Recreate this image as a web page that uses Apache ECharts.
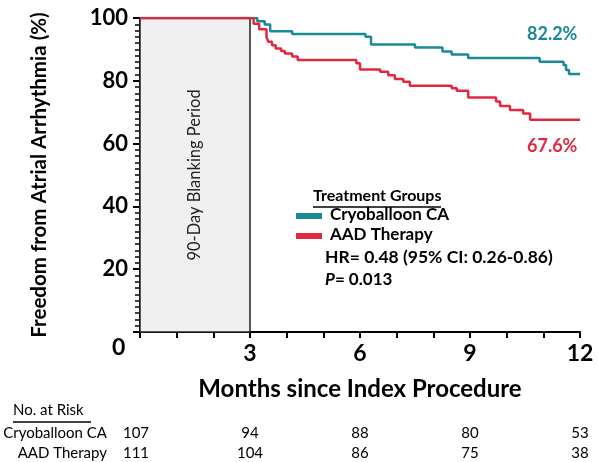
<!DOCTYPE html>
<html>
<head>
<meta charset="utf-8">
<script src="https://cdn.jsdelivr.net/npm/echarts@6/dist/echarts.min.js"></script>
<style>
html,body{margin:0;padding:0;background:#fff;}
#chart{width:597px;height:462px;}
</style>
</head>
<body>
<div id="chart"></div>
<script>
// ---- data ----
var cryoTime = [0, 3.2, 3.4, 3.55, 4.15, 6.15, 6.3, 7.5, 8.25, 8.5, 8.95, 10.9, 11.55, 11.62, 11.7, 12];
var cryoSurv = [100, 99.0, 97.9, 95.8, 94.9, 94.0, 91.6, 90.6, 89.3, 88.4, 87.3, 86.1, 85.0, 83.4, 82.2, 82.2];
var aadTime = [0, 3.1, 3.25, 3.45, 3.5, 3.6, 3.7, 3.85, 3.95, 4.15, 4.3, 5.9, 6.0, 6.55, 6.77, 6.95, 7.18, 7.36, 8.5, 8.64, 8.95, 9.71, 9.82, 10.09, 10.45, 10.64, 12];
var aadSurv = [100, 98.2, 96.4, 93.9, 92.4, 91.3, 90.3, 89.5, 88.7, 87.7, 86.6, 85.6, 83.6, 82.9, 81.8, 80.6, 79.7, 78.4, 77.6, 76.8, 74.7, 73.4, 72.0, 70.7, 69.6, 67.6, 67.6];
var seriesNames = ['Cryoballoon CA', 'AAD Therapy'];
var finalLabels = ['82.2%', '67.6%'];
var riskMonths = [0, 3, 6, 9, 12];
var cryoRisk = [107, 94, 88, 80, 53];
var aadRisk = [111, 104, 86, 75, 38];
var blanking = [0, 3];

var TEAL = '#1a8a96';
var RED = '#e2283f';
var FONT = 'Lato';

function pairs(t, s) { return t.map(function (v, i) { return [v, s[i]]; }); }

var chart = echarts.init(document.getElementById('chart'));
var option = {
  animation: false,
  backgroundColor: '#fff',
  grid: { left: 140, right: 17, top: 18, bottom: 130 },
  xAxis: {
    type: 'value', min: 0, max: 12, interval: 3,
    axisLine: { lineStyle: { color: '#000', width: 2 } },
    axisTick: { show: true, length: 6, lineStyle: { color: '#000', width: 2 } },
    minorTick: { show: true, splitNumber: 3, length: 6, lineStyle: { color: '#000', width: 2 } },
    splitLine: { show: false },
    axisLabel: {
      margin: 10, color: '#000', fontFamily: FONT, fontWeight: 'bold', fontSize: 23,
      formatter: function (v) { return v === 0 ? '' : String(v); }
    },
    name: 'Months since Index Procedure', nameLocation: 'middle', nameGap: 45,
    nameTextStyle: { color: '#000', fontFamily: FONT, fontWeight: 'bold', fontSize: 24 }
  },
  yAxis: {
    type: 'value', min: 0, max: 100, interval: 20,
    axisLine: { show: true, lineStyle: { color: '#000', width: 2 } },
    axisTick: { show: true, length: 7, lineStyle: { color: '#000', width: 2 } },
    minorTick: { show: true, splitNumber: 10, length: 5, lineStyle: { color: '#000', width: 1.5 } },
    splitLine: { show: false },
    axisLabel: {
      margin: 12, color: '#000', fontFamily: FONT, fontWeight: 'bold', fontSize: 22,
      formatter: function (v) { return v === 0 ? '' : String(v); }
    },
    name: 'Freedom from Atrial Arrhythmia (%)', nameLocation: 'middle', nameGap: 90,
    nameTextStyle: { color: '#000', fontFamily: FONT, fontWeight: 'bold', fontSize: 20.5 }
  },
  series: [
    {
      name: seriesNames[0], type: 'line', step: 'end', showSymbol: false,
      data: pairs(cryoTime, cryoSurv),
      lineStyle: { color: TEAL, width: 2.5 }, itemStyle: { color: TEAL }, z: 3,
      markArea: {
        silent: true,
        itemStyle: { color: '#f0f0f0', borderColor: '#222', borderWidth: 1.5 },
        label: {
          show: true, position: 'inside', rotate: 90, color: '#222',
          fontFamily: FONT, fontSize: 16.5, formatter: '90-Day Blanking Period'
        },
        data: [[{ coord: [blanking[0], 100] }, { coord: [blanking[1], 0] }]]
      }
    },
    {
      name: seriesNames[1], type: 'line', step: 'end', showSymbol: false,
      data: pairs(aadTime, aadSurv),
      lineStyle: { color: RED, width: 2.5 }, itemStyle: { color: RED }, z: 4
    }
  ]
};
chart.setOption(option);

// ---- annotations ----
var g = [];
function px(x, y) { return chart.convertToPixel({ gridIndex: 0 }, [x, y]); }
var o = px(0, 0);
g.push({ type: 'text', left: o[0] - 28, top: o[1] + 4,
  style: { text: '0', font: 'bold 23px ' + FONT, fill: '#000' } });

// final percentage labels
g.push({ type: 'text', left: 527, top: 25,
  style: { text: finalLabels[0], font: 'bold 18px ' + FONT, fill: TEAL } });
g.push({ type: 'text', left: 527, top: 137,
  style: { text: finalLabels[1], font: 'bold 18px ' + FONT, fill: RED } });

// legend block
g.push({ type: 'text', left: 313, top: 188,
  style: { text: 'Treatment Groups', font: 'bold 16px ' + FONT, fill: '#000' } });
g.push({ type: 'line', shape: { x1: 313, y1: 207, x2: 441, y2: 207 }, style: { stroke: '#000', lineWidth: 1.5 } });
g.push({ type: 'rect', shape: { x: 296, y: 213, width: 26, height: 6 }, style: { fill: TEAL } });
g.push({ type: 'text', left: 330, top: 206,
  style: { text: seriesNames[0], font: 'bold 17px ' + FONT, fill: '#000' } });
g.push({ type: 'rect', shape: { x: 296, y: 233, width: 26, height: 6 }, style: { fill: RED } });
g.push({ type: 'text', left: 330, top: 226,
  style: { text: seriesNames[1], font: 'bold 17px ' + FONT, fill: '#000' } });
g.push({ type: 'text', left: 325, top: 248,
  style: { text: 'HR= 0.48 (95% CI: 0.26-0.86)', font: 'bold 17.5px ' + FONT, fill: '#000' } });
g.push({ type: 'text', left: 325, top: 271,
  style: {
    text: '{i|P}{n|= 0.013}',
    rich: { i: { font: 'italic bold 17px ' + FONT, fill: '#000' }, n: { font: 'bold 17px ' + FONT, fill: '#000' } }
  } });

// number at risk table
g.push({ type: 'text', left: 13, top: 403,
  style: { text: 'No. at Risk', font: '15px ' + FONT, fill: '#000' } });
g.push({ type: 'line', shape: { x1: 13, y1: 422, x2: 91, y2: 422 }, style: { stroke: '#000', lineWidth: 1.5 } });
var rowY = [433, 453];
var rowLbl = seriesNames;
var rowVals = [cryoRisk, aadRisk];
rowY.forEach(function (y, r) {
  g.push({ type: 'text', x: 107, y: y,
    style: { text: rowLbl[r], font: '15px ' + FONT, fill: '#000', textAlign: 'right', textVerticalAlign: 'middle' } });
  riskMonths.forEach(function (m, i) {
    var p = px(m, 0);
    g.push({ type: 'text', x: p[0] - (m === 0 ? 4 : 0), y: y,
      style: { text: String(rowVals[r][i]), font: '15px ' + FONT, fill: '#000', textAlign: 'center', textVerticalAlign: 'middle' } });
  });
});
chart.setOption({ graphic: g });
</script>
</body>
</html>
